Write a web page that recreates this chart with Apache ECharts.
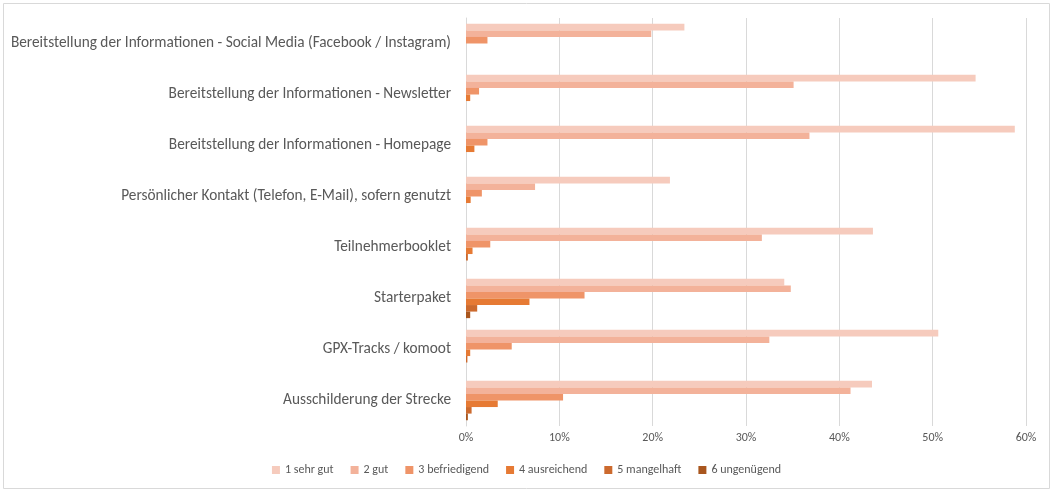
<!DOCTYPE html>
<html>
<head>
<meta charset="utf-8">
<script src="https://cdn.jsdelivr.net/npm/echarts@6/dist/echarts.min.js"></script>
<style>
html,body{margin:0;padding:0;background:#fff;}
#c{width:1053px;height:492px;}
</style>
</head>
<body>
<div id="c"></div>
<script>
const categories = [
  "Bereitstellung der Informationen - Social Media (Facebook / Instagram)",
  "Bereitstellung der Informationen - Newsletter",
  "Bereitstellung der Informationen - Homepage",
  "Persönlicher Kontakt (Telefon, E-Mail), sofern genutzt",
  "Teilnehmerbooklet",
  "Starterpaket",
  "GPX-Tracks / komoot",
  "Ausschilderung der Strecke"
];
const seriesNames = ["1 sehr gut", "2 gut", "3 befriedigend", "4 ausreichend", "5 mangelhaft", "6 ungenügend"];
const sehrGut      = [23.4, 54.6, 58.8, 21.85, 43.6, 34.1, 50.6, 43.5];
const gut          = [19.85, 35.1, 36.8, 7.4, 31.7, 34.8, 32.5, 41.2];
const befriedigend = [2.3, 1.4, 2.3, 1.7, 2.6, 12.7, 4.9, 10.4];
const ausreichend  = [0, 0.45, 0.9, 0.5, 0.7, 6.8, 0.45, 3.4];
const mangelhaft   = [0, 0, 0, 0, 0.2, 1.2, 0.15, 0.6];
const ungenuegend  = [0, 0, 0, 0, 0, 0.45, 0, 0.2];
const xTicks = [0, 10, 20, 30, 40, 50, 60];

const colors = ["#f6cbbd", "#f3b29a", "#ef9468", "#e67a34", "#cc6a2e", "#a9561e"];
const values = [sehrGut, gut, befriedigend, ausreichend, mangelhaft, ungenuegend];

const chart = echarts.init(document.getElementById('c'), null, {renderer: 'canvas'});
const font = "Carlito, Calibri, 'Liberation Sans', sans-serif";
chart.setOption({
  animation: false,
  textStyle: {fontFamily: font},
  graphic: [{
    type: 'rect', shape: {x: 3.5, y: 3.5, width: 1046, height: 485},
    style: {fill: 'none', stroke: '#d9d9d9', lineWidth: 1}, silent: true, z: -1
  }],
  grid: {left: 466, right: 27, top: 18, bottom: 66, containLabel: false},
  legend: {
    data: seriesNames,
    bottom: 11,
    left: 'center',
    itemWidth: 8, itemHeight: 8, itemGap: 17,
    icon: 'rect',
    textStyle: {color: '#595959', fontSize: 12, fontFamily: font}
  },
  xAxis: {
    type: 'value', min: xTicks[0], max: xTicks[xTicks.length - 1], interval: 10,
    axisLine: {show: false}, axisTick: {show: false},
    splitLine: {lineStyle: {color: '#d9d9d9', width: 1}},
    axisLabel: {color: '#595959', fontSize: 12, margin: 6, formatter: v => v + '%'}
  },
  yAxis: {
    type: 'category', data: categories, inverse: true,
    axisLine: {show: true, lineStyle: {color: '#d9d9d9'}},
    axisTick: {show: false},
    axisLabel: {color: '#595959', fontSize: 15.3, margin: 15}
  },
  series: seriesNames.map((n, i) => ({
    name: n, type: 'bar', data: values[i],
    itemStyle: {color: colors[i]},
    barGap: '0%', barCategoryGap: '23%'
  }))
});
</script>
</body>
</html>
